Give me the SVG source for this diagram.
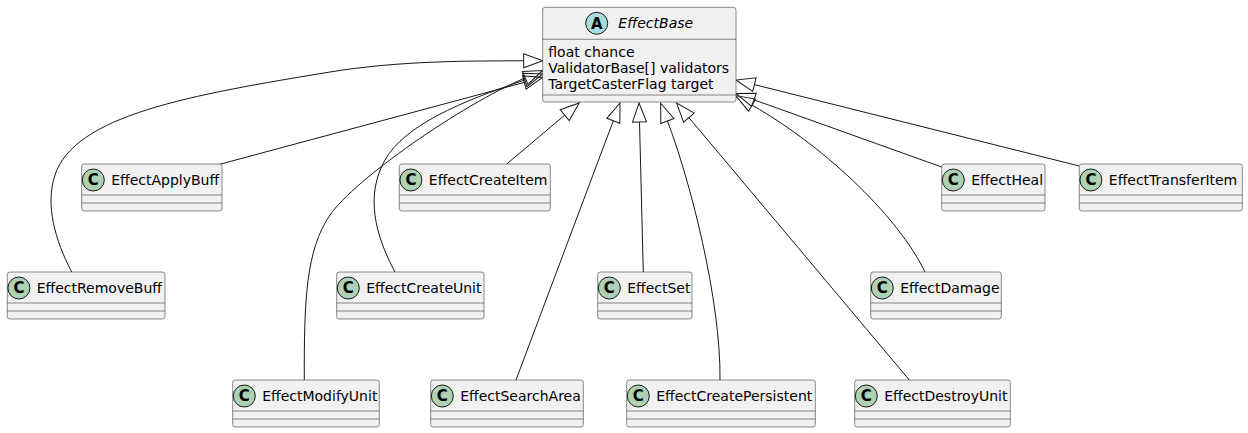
<svg xmlns="http://www.w3.org/2000/svg" width="1248" height="433" viewBox="0 0 1248 433">
<defs>
<style>
.box{fill:#F1F1F1;stroke:#181818;stroke-width:0.5}
.sep{stroke:#181818;stroke-width:0.5}
.ci{fill:#ADD1B2;stroke:#181818;stroke-width:1}
.ab{fill:#A9DCDF;stroke:#181818;stroke-width:1}
.lt{font-family:"DejaVu Sans","Liberation Sans",sans-serif;font-size:15px;font-weight:bold;fill:#000;text-anchor:middle}
.nm{font-family:"DejaVu Sans","Liberation Sans",sans-serif;font-size:14px;fill:#000}
.it{font-style:italic}
.edge{fill:none;stroke:#181818;stroke-width:1;marker-end:url(#ext)}
</style>
<marker id="ext" markerUnits="userSpaceOnUse" markerWidth="22" markerHeight="16" refX="0" refY="7" orient="auto" overflow="visible">
<path d="M0,0 L19,7 L0,14 Z" fill="none" stroke="#181818" stroke-width="1"/>
</marker>
</defs>
<rect width="1248" height="433" fill="#FFFFFF"/>
<g id="connectors">
<path class="edge" d="M71.7,272 C55,240 45,205 55,175 C75,115 190,95 330,72 C400,60.5 470,61 523.7,60.8"/>
<path class="edge" d="M219,164.5 L524.3,82.4"/>
<path class="edge" d="M304.3,380 C304,300 306,250 330,215 C354,180 460.8,105.2 525.2,77.9"/>
<path class="edge" d="M395,272 C375,235 365,195 385,160 C405,125 460,102 524.8,80"/>
<path class="edge" d="M506.7,164 L564.7,115.2"/>
<path class="edge" d="M516,380 L613.3,120.8"/>
<path class="edge" d="M643.3,272 L639.5,122"/>
<path class="edge" d="M720,380 C721,300 690,180 667.4,121"/>
<path class="edge" d="M909.3,380 L688.9,117.6"/>
<path class="edge" d="M925,272 C900,220 830,150 752.1,105.1"/>
<path class="edge" d="M941.7,167 L753.9,99.8"/>
<path class="edge" d="M1079.3,166 L754.4,84.6"/>
</g>
<g id="EffectBase">
<rect class="box" x="542.7" y="7.3" width="193.3" height="94.7" rx="2.5"/>
<circle class="ab" cx="596.7" cy="23.3" r="11"/>
<text class="lt" x="596.7" y="28.5">A</text>
<text class="nm it" x="618.3" y="28">EffectBase</text>
<line class="sep" x1="542.7" y1="39.3" x2="736" y2="39.3"/>
<text class="nm" x="548.3" y="56.5">float chance</text>
<text class="nm" x="548.3" y="72.5">ValidatorBase[] validators</text>
<text class="nm" x="548.3" y="89">TargetCasterFlag target</text>
<line class="sep" x1="542.7" y1="95" x2="736" y2="95"/>
</g>
<g id="EffectRemoveBuff">
<rect class="box" x="7.3" y="272" width="157.7" height="47" rx="2.5"/>
<circle class="ci" cx="18.9" cy="288" r="11"/>
<text class="lt" x="18.9" y="293.3">C</text>
<text class="nm" x="36.7" y="293">EffectRemoveBuff</text>
<line class="sep" x1="7.3" y1="303" x2="165" y2="303"/>
<line class="sep" x1="7.3" y1="311" x2="165" y2="311"/>
</g>
<g id="EffectApplyBuff">
<rect class="box" x="81.7" y="164" width="140.3" height="47" rx="2.5"/>
<circle class="ci" cx="93.3" cy="180" r="11"/>
<text class="lt" x="93.3" y="185.3">C</text>
<text class="nm" x="111.2" y="185">EffectApplyBuff</text>
<line class="sep" x1="81.7" y1="195" x2="222" y2="195"/>
<line class="sep" x1="81.7" y1="203" x2="222" y2="203"/>
</g>
<g id="EffectModifyUnit">
<rect class="box" x="232.7" y="380" width="146.6" height="47" rx="2.5"/>
<circle class="ci" cx="244.3" cy="396" r="11"/>
<text class="lt" x="244.3" y="401.3">C</text>
<text class="nm" x="262.2" y="401">EffectModifyUnit</text>
<line class="sep" x1="232.7" y1="411" x2="379.3" y2="411"/>
<line class="sep" x1="232.7" y1="419" x2="379.3" y2="419"/>
</g>
<g id="EffectCreateUnit">
<rect class="box" x="336.7" y="272" width="147.3" height="47" rx="2.5"/>
<circle class="ci" cx="348.3" cy="288" r="11"/>
<text class="lt" x="348.3" y="293.3">C</text>
<text class="nm" x="366.2" y="293">EffectCreateUnit</text>
<line class="sep" x1="336.7" y1="303" x2="484" y2="303"/>
<line class="sep" x1="336.7" y1="311" x2="484" y2="311"/>
</g>
<g id="EffectCreateItem">
<rect class="box" x="399.3" y="164" width="151" height="47" rx="2.5"/>
<circle class="ci" cx="410.9" cy="180" r="11"/>
<text class="lt" x="410.9" y="185.3">C</text>
<text class="nm" x="428.8" y="185">EffectCreateItem</text>
<line class="sep" x1="399.3" y1="195" x2="550.3" y2="195"/>
<line class="sep" x1="399.3" y1="203" x2="550.3" y2="203"/>
</g>
<g id="EffectSearchArea">
<rect class="box" x="430.7" y="380" width="152.6" height="47" rx="2.5"/>
<circle class="ci" cx="442.3" cy="396" r="11"/>
<text class="lt" x="442.3" y="401.3">C</text>
<text class="nm" x="460.2" y="401">EffectSearchArea</text>
<line class="sep" x1="430.7" y1="411" x2="583.3" y2="411"/>
<line class="sep" x1="430.7" y1="419" x2="583.3" y2="419"/>
</g>
<g id="EffectSet">
<rect class="box" x="597.7" y="272" width="94.3" height="47" rx="2.5"/>
<circle class="ci" cx="609.3" cy="288" r="11"/>
<text class="lt" x="609.3" y="293.3">C</text>
<text class="nm" x="627.2" y="293">EffectSet</text>
<line class="sep" x1="597.7" y1="303" x2="692" y2="303"/>
<line class="sep" x1="597.7" y1="311" x2="692" y2="311"/>
</g>
<g id="EffectCreatePersistent">
<rect class="box" x="626.7" y="380" width="188.6" height="47" rx="2.5"/>
<circle class="ci" cx="638.3" cy="396" r="11"/>
<text class="lt" x="638.3" y="401.3">C</text>
<text class="nm" x="656.2" y="401">EffectCreatePersistent</text>
<line class="sep" x1="626.7" y1="411" x2="815.3" y2="411"/>
<line class="sep" x1="626.7" y1="419" x2="815.3" y2="419"/>
</g>
<g id="EffectDestroyUnit">
<rect class="box" x="854.7" y="380" width="155.6" height="47" rx="2.5"/>
<circle class="ci" cx="866.3" cy="396" r="11"/>
<text class="lt" x="866.3" y="401.3">C</text>
<text class="nm" x="884.2" y="401">EffectDestroyUnit</text>
<line class="sep" x1="854.7" y1="411" x2="1010.3" y2="411"/>
<line class="sep" x1="854.7" y1="419" x2="1010.3" y2="419"/>
</g>
<g id="EffectDamage">
<rect class="box" x="870.7" y="272" width="130.6" height="47" rx="2.5"/>
<circle class="ci" cx="882.3" cy="288" r="11"/>
<text class="lt" x="882.3" y="293.3">C</text>
<text class="nm" x="900.2" y="293">EffectDamage</text>
<line class="sep" x1="870.7" y1="303" x2="1001.3" y2="303"/>
<line class="sep" x1="870.7" y1="311" x2="1001.3" y2="311"/>
</g>
<g id="EffectHeal">
<rect class="box" x="941.7" y="164" width="103.3" height="47" rx="2.5"/>
<circle class="ci" cx="953.3" cy="180" r="11"/>
<text class="lt" x="953.3" y="185.3">C</text>
<text class="nm" x="971.2" y="185">EffectHeal</text>
<line class="sep" x1="941.7" y1="195" x2="1045" y2="195"/>
<line class="sep" x1="941.7" y1="203" x2="1045" y2="203"/>
</g>
<g id="EffectTransferItem">
<rect class="box" x="1079.3" y="164" width="163" height="47" rx="2.5"/>
<circle class="ci" cx="1090.9" cy="180" r="11"/>
<text class="lt" x="1090.9" y="185.3">C</text>
<text class="nm" x="1108.8" y="185">EffectTransferItem</text>
<line class="sep" x1="1079.3" y1="195" x2="1242.3" y2="195"/>
<line class="sep" x1="1079.3" y1="203" x2="1242.3" y2="203"/>
</g>
</svg>
